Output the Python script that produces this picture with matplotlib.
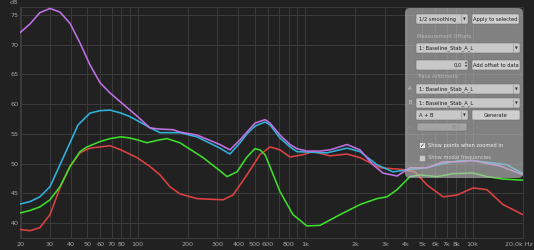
#!/usr/bin/env python3
"""
Frequency response overlay (REW style): four measured traces on a log
frequency axis, with the translucent control panel on the right.
"""

import matplotlib
matplotlib.use("Agg")
import matplotlib.pyplot as plt
from matplotlib.patches import FancyBboxPatch, Rectangle

# ---- data ----
purple_f = [20, 22.8, 26.1, 30, 34.4, 39.5, 45.3, 52, 59.7, 68.4, 79.6, 99.2,
            118.6, 136, 163, 179, 226, 310, 356, 409, 450, 502, 577, 618, 708,
            813, 895, 1027, 1228, 1409, 1780, 2128, 2545, 2920, 3539, 4232,
            5346, 6661, 8414, 10060, 12197, 14581, 20000]
purple_db = [72.1, 73.5, 75.4, 76.1, 75.5, 73.6, 70.3, 66.6, 63.6, 61.9, 60.3,
             58.0, 56.0, 55.8, 55.7, 55.3, 54.8, 53.2, 52.3, 54.0, 55.3, 56.8,
             57.4, 56.8, 54.8, 53.2, 52.5, 52.1, 52.1, 52.3, 53.2, 52.3, 49.8,
             48.4, 47.9, 49.3, 49.3, 50.3, 50.3, 50.5, 50.0, 49.6, 48.1]

cyan_f = [20, 22.8, 26.1, 30, 34.4, 39.5, 44.1, 52, 59.7, 68.4, 79.6, 90, 103,
          119, 136, 179, 226, 310, 356, 409, 450, 502, 577, 618, 708, 813, 895,
          1352, 1780, 2128, 2689, 3349, 4232, 5346, 6661, 8414, 10060, 13245,
          16061, 20000]
cyan_db = [43.2, 43.6, 44.4, 46.1, 49.8, 53.5, 56.5, 58.5, 58.9, 59.0, 58.5,
           57.9, 57.0, 56.0, 55.2, 55.2, 54.5, 52.6, 51.6, 53.5, 55.0, 56.3,
           57.0, 56.5, 54.3, 52.8, 52.0, 51.8, 52.6, 52.0, 49.8, 48.6, 49.0,
           49.3, 50.0, 50.5, 50.5, 50.1, 49.8, 48.3]

green_f = [20, 22.8, 26.1, 30, 34.4, 39.5, 45.3, 49.9, 59.7, 68.4, 79.6, 90,
           99.2, 113.8, 136, 150, 179, 246, 310, 342, 392, 450, 502, 538, 577,
           635, 708, 847, 1027, 1228, 1617, 2128, 2689, 3085, 3539, 4232, 4855,
           6135, 7640, 10060, 12197, 15195, 20000]
green_db = [41.7, 42.1, 42.7, 43.9, 46.1, 49.5, 52.0, 52.8, 53.7, 54.2, 54.5,
            54.3, 54.0, 53.5, 54.0, 54.2, 53.5, 51.0, 48.8, 47.8, 48.6, 51.1,
            52.5, 52.3, 51.5, 48.6, 45.3, 41.4, 39.5, 39.6, 41.4, 43.1, 44.1,
            44.4, 45.6, 47.8, 48.1, 47.8, 48.3, 48.4, 47.8, 47.4, 47.2]

red_f = [20, 22.8, 26.1, 30, 34.4, 39.5, 45.3, 52, 59.7, 68.4, 79.6, 99.2,
         118.6, 136, 156, 179, 226, 324, 371, 450, 538, 618, 708, 813, 973,
         1115, 1409, 1780, 2128, 2802, 3842, 4532, 5346, 6661, 8073, 10060,
         12197, 15195, 20000]
red_db = [38.9, 38.7, 39.2, 41.4, 45.9, 49.5, 51.8, 52.6, 52.8, 53.0, 52.3,
          51.0, 49.5, 48.1, 46.1, 44.9, 44.1, 43.9, 44.7, 48.1, 51.5, 52.8,
          52.3, 51.1, 51.5, 52.0, 51.3, 51.6, 51.0, 49.3, 49.0, 48.6, 46.4,
          44.4, 44.7, 45.9, 45.6, 43.1, 41.4]

x_ticks = [20, 30, 40, 50, 60, 70, 80, 100, 200, 300, 400, 500, 600, 800,
           1000, 2000, 3000, 4000, 5000, 6000, 7000, 8000, 10000, 20000]
x_labels = ["20", "30", "40", "50", "60", "70", "80", "100", "200", "300",
            "400", "500", "600", "800", "1k", "2k", "3k", "4k", "5k", "6k",
            "7k", "8k", "10k", ""]
last_label = "20.0k Hz"   # drawn separately so it ends at the image edge
x_grid_extra = [90, 700, 900, 9000]
y_ticks = [40, 45, 50, 55, 60, 65, 70, 75]

BG = "#212121"
GRID = "#3b3b3b"
TXT = "#a8a8a8"

plt.rcParams["font.family"] = ["DejaVu Sans"]

W, H = 534, 250
fig = plt.figure(figsize=(W / 100, H / 100), dpi=100, facecolor=BG)

# plot area: x 20.5..523 px, y 7..238 px
ax = fig.add_axes([20.5 / W, 1 - 238 / H, (523 - 20.5) / W, (238 - 7) / H])
ax.set_facecolor(BG)
ax.set_xscale("log")
ax.set_xlim(20, 20000)
ax.set_ylim(37.47, 76.35)

ax.set_xticks(x_ticks)
ax.set_xticklabels(x_labels)
ax.set_xticks(x_grid_extra, minor=True)
ax.set_yticks(y_ticks)
ax.tick_params(axis="both", which="both", length=0, colors=TXT, labelsize=4.6)
ax.tick_params(axis="x", pad=2.6)
ax.tick_params(axis="y", pad=1.6)
ax.grid(True, which="both", color=GRID, lw=0.75)
for s in ax.spines.values():
    s.set_color(GRID)
    s.set_linewidth(0.75)

ax.plot(red_f, red_db, color="#dc4242", lw=1.15, zorder=3)
ax.plot(green_f, green_db, color="#3ede2c", lw=1.15, zorder=3)
ax.plot(cyan_f, cyan_db, color="#2fb3dc", lw=1.15, zorder=4)
ax.plot(purple_f, purple_db, color="#c172e4", lw=1.15, zorder=5)

fig.text(14 / W, 1 - 3 / H, "dB", color=TXT, fontsize=4.5,
         ha="center", va="center")
fig.text(533 / W, 1 - 244.5 / H, last_label, color=TXT, fontsize=4.6,
         ha="right", va="center")

# ---- overlay panel, drawn in pixel coordinates ----
ov = fig.add_axes([0, 0, 1, 1], facecolor="none")
ov.set_xlim(0, W)
ov.set_ylim(H, 0)
ov.axis("off")

ov.add_patch(FancyBboxPatch((405, 8), 118, 170,
                            boxstyle="round,pad=0,rounding_size=5",
                            fc="#bdbdbd", ec="none", alpha=0.62, zorder=1))

FS = 3.7


def widget(x, y, w, h, text="", align="left", arrow=False, fc="#c8c8c8",
           tc="#1c1c1c"):
    ov.add_patch(FancyBboxPatch((x, y), w, h,
                                boxstyle="round,pad=0,rounding_size=1.2",
                                fc=fc, ec="#707070", lw=0.4, zorder=2))
    if arrow:
        ov.plot([x + w - 7, x + w - 7], [y + 1, y + h - 1], color="#8a8a8a",
                lw=0.4, zorder=3)
        ov.text(x + w - 3.5, y + h / 2 + 0.3, "\u25bc", fontsize=2.6,
                color="#303030", ha="center", va="center", zorder=3)
    if text:
        if align == "left":
            ov.text(x + 3, y + h / 2 + 0.2, text, fontsize=FS, color=tc,
                    ha="left", va="center", zorder=3)
        elif align == "right":
            ov.text(x + w - 6, y + h / 2 + 0.2, text, fontsize=FS, color=tc,
                    ha="right", va="center", zorder=3)
        else:
            ov.text(x + w / 2, y + h / 2 + 0.2, text, fontsize=FS, color=tc,
                    ha="center", va="center", zorder=3)


widget(416, 14, 52, 10, "1/2 smoothing", arrow=True)
widget(472, 14, 47, 10, "Apply to selected", align="center", fc="#cfcfcf")
ov.text(417, 36, "Measurement Offsets", fontsize=FS, color="#b9b9b9",
        ha="left", va="center", zorder=3)
widget(416, 43, 104, 10, "1: Baseline_Stab_A_L", arrow=True)
widget(416, 60, 52, 10, "0,0", align="right")
ov.text(465.5, 63, "\u25b2", fontsize=1.8, color="#303030", ha="center",
        va="center", zorder=3)
ov.text(465.5, 67, "\u25bc", fontsize=1.8, color="#303030", ha="center",
        va="center", zorder=3)
widget(472, 60, 48, 10, "Add offset to data", align="center", fc="#cfcfcf")
ov.text(417, 77, "Trace Arithmetic", fontsize=FS, color="#b9b9b9",
        ha="left", va="center", zorder=3)
ov.text(410, 89, "A", fontsize=FS, color="#d0d0d0", ha="center",
        va="center", zorder=3)
widget(416, 84, 104, 10, "1: Baseline_Stab_A_L", arrow=True)
ov.text(410, 103, "B", fontsize=FS, color="#d0d0d0", ha="center",
        va="center", zorder=3)
widget(416, 98, 104, 10, "1: Baseline_Stab_A_L", arrow=True)
widget(416, 110, 52, 10, "A + B", arrow=True)
widget(472, 110, 48, 10, "Generate", align="center", fc="#cfcfcf")
widget(417, 123, 50, 8, "200", align="right", fc="#a4a4a4", tc="#8c8c8c")
ov.text(410, 127.5, "\u2039", fontsize=FS, color="#a8a8a8", ha="center",
        va="center", zorder=3)
ov.text(477, 127.5, "\u203a", fontsize=FS, color="#a8a8a8", ha="center",
        va="center", zorder=3)

ov.add_patch(Rectangle((419, 142), 6, 6, fc="#e8e8e8", ec="#606060",
                       lw=0.4, zorder=2))
ov.text(422, 145.2, "\u2713", fontsize=4.2, color="#101010", ha="center",
        va="center", zorder=3)
ov.text(428, 145, "Show points when zoomed in", fontsize=FS, color="#f2f2f2",
        ha="left", va="center", zorder=3)
ov.add_patch(Rectangle((419, 155), 6, 6, fc="#c8c8c8", ec="#808080",
                       lw=0.4, zorder=2))
ov.text(428, 158, "Show modal frequencies", fontsize=FS, color="#d6d6d6",
        ha="left", va="center", zorder=3)

fig.savefig("out.png", dpi=100, facecolor=BG)
